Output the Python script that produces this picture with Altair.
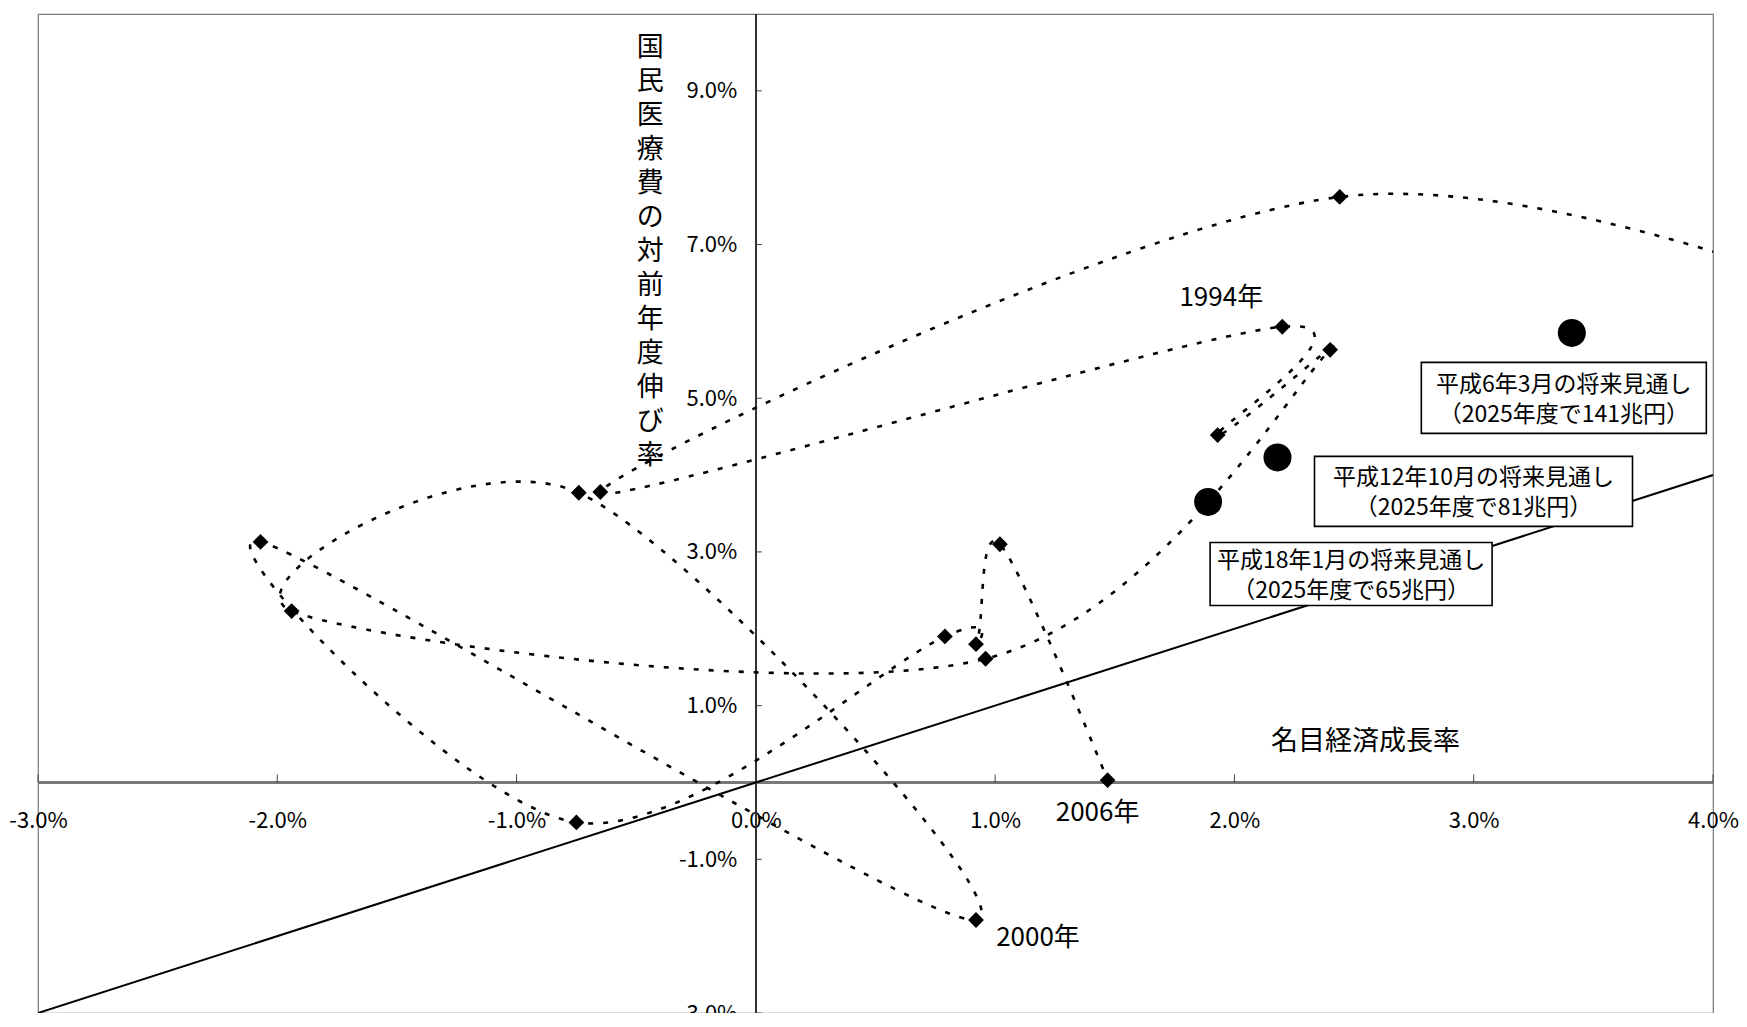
import altair as alt
import pandas as pd

# ---------------- data ----------------
years = [1991, 1992, 1993, 1994, 1995, 1996, 1997, 1998, 1999,
         2000, 2001, 2002, 2003, 2004, 2005, 2006]
gdp_growth = [4.90, 2.44, -0.65, 2.20, 1.93, 2.40, 0.96, -1.94, -0.74,
              0.92, -2.07, -0.75, 0.79, 0.92, 1.02, 1.47]
med_growth = [5.90, 7.62, 3.78, 5.93, 4.52, 5.63, 1.61, 2.23, 3.77,
              -1.79, 3.13, -0.52, 1.90, 1.80, 3.10, 0.03]

label_years = [1994, 2000, 2006]
label_texts = ["1994年", "2000年", "2006年"]

proj_names = ["平成6年3月の将来見通し", "平成12年10月の将来見通し", "平成18年1月の将来見通し"]
proj_notes = ["（2025年度で141兆円）", "（2025年度で81兆円）", "（2025年度で65兆円）"]
proj_gdp = [3.41, 2.18, 1.89]
proj_med = [5.85, 4.23, 3.65]

diag_values = [-3.0, 4.0]
x_tick_values = [-3, -2, -1, 0, 1, 2, 3, 4]
y_tick_values = [-3, -1, 1, 3, 5, 7, 9]
x_domain = [-3, 4]
y_domain = [-3, 10]

x_title = "名目経済成長率"
y_title = "国民医療費の対前年度伸び率"

# ---------------- layout / style ----------------
W, H = 1675, 999
PAD_L, PAD_T, PAD_R = 30, 6, 26
FONT_JP = "Noto Sans CJK JP, sans-serif"
LABEL_EXPR = "(datum.value < 0 ? '-' : '') + format(abs(datum.value), '.1f') + '%'"

label_offsets = {1994: (-61, -29), 2000: (62, 18), 2006: (-10, 33)}
# box centre offset from its circle (px) and box size (px)
box_styles = [(-8, 65, 285, 71), (196, 34, 318, 70), (143, 72, 282, 63)]
TEXT_SHIFT = -13

hist = pd.DataFrame({"year": years, "gdp": gdp_growth, "med": med_growth})
proj = pd.DataFrame({"name": proj_names, "note": proj_notes,
                     "gdp": proj_gdp, "med": proj_med})
proj["text"] = proj["name"] + "\n" + proj["note"]
diag = pd.DataFrame({"gdp": diag_values, "med": diag_values})
xt = pd.DataFrame({"gdp": x_tick_values})
yt = pd.DataFrame({"med": y_tick_values})

xs = alt.Scale(domain=x_domain, nice=False, zero=False)
ys = alt.Scale(domain=y_domain, nice=False, zero=False)

xaxis = alt.Axis(
    values=x_tick_values, orient="bottom", offset=-(3 / 13) * H,
    labelExpr=LABEL_EXPR,
    domain=False, ticks=False, tickSize=0, grid=False,
    labelPadding=38, labelBaseline="middle", labelAlign="center",
    labelFont=FONT_JP, labelFontSize=22, labelColor="black",
    labelFlush=False, labelOverlap=False, labelBound=False,
    title=x_title, titleX=1327, titleY=-41, titleAlign="center",
    titleBaseline="middle", titleFont=FONT_JP, titleFontSize=27,
    titleFontWeight="normal", titleColor="black",
)
yaxis = alt.Axis(
    values=y_tick_values, orient="left", offset=-(3 / 7) * W,
    labelExpr=LABEL_EXPR,
    domain=False, ticks=False, tickSize=0, grid=False,
    labelPadding=19, labelBaseline="middle", labelAlign="right",
    labelFont=FONT_JP, labelFontSize=22, labelColor="black",
    labelFlush=False, labelOverlap=False, labelBound=False,
    title=list(y_title), titleAngle=0, titleX=-106, titleY=20,
    titleAlign="center", titleBaseline="top", titleLineHeight=34,
    titleFont=FONT_JP, titleFontSize=27, titleFontWeight="normal",
    titleColor="black",
)


def X(field):
    return alt.X(field, type="quantitative", scale=xs, axis=xaxis)


def Y(field):
    return alt.Y(field, type="quantitative", scale=ys, axis=yaxis)


def XD(v):
    return alt.XDatum(v, type="quantitative", scale=xs, axis=xaxis)


def YD(v):
    return alt.YDatum(v, type="quantitative", scale=ys, axis=yaxis)


layers = []

# zero lines (the crossing axes)
layers.append(alt.Chart(hist).mark_rule(color="#333", strokeWidth=1.3).encode(x=XD(0)))
layers.append(alt.Chart(hist).mark_rule(color="#777", strokeWidth=1.6).encode(y=YD(0)))

# tick marks
layers.append(alt.Chart(xt).mark_rule(color="#444", strokeWidth=1, y2Offset=-8).encode(
    x=X("gdp"), y=YD(0), y2=alt.Y2Datum(0)))
layers.append(alt.Chart(yt).mark_rule(color="#444", strokeWidth=1, x2Offset=6).encode(
    y=Y("med"), x=XD(0), x2=alt.X2Datum(0)))

# 45-degree line
layers.append(alt.Chart(diag).mark_line(color="black", strokeWidth=2, clip=True).encode(
    x=X("gdp"), y=Y("med")))

# dotted smoothed path
layers.append(alt.Chart(hist).mark_line(
    color="black", strokeWidth=2.6, strokeDash=[5, 10], interpolate="cardinal",
    tension=0, clip=True).encode(x=X("gdp"), y=Y("med"), order=alt.Order("year:Q")))

# diamonds
layers.append(alt.Chart(hist).mark_point(
    shape="diamond", filled=True, size=250, color="black", opacity=1, clip=True).encode(
    x=X("gdp"), y=Y("med")))

# projection circles
layers.append(alt.Chart(proj).mark_point(
    shape="circle", filled=True, size=784, color="black", opacity=1).encode(
    x=X("gdp"), y=Y("med")))

# annotation boxes
for i, (dx, dy, bw, bh) in enumerate(box_styles):
    base = alt.Chart(proj).transform_filter(alt.datum.name == proj_names[i])
    layers.append(base.mark_rect(
        fill="white", stroke="black", strokeWidth=1.6,
        xOffset=dx - bw / 2, x2Offset=dx + bw / 2,
        yOffset=dy - bh / 2, y2Offset=dy + bh / 2).encode(
        x=X("gdp"), x2=alt.X2("gdp"), y=Y("med"), y2=alt.Y2("med")))
    layers.append(base.mark_text(
        dx=dx, dy=dy + TEXT_SHIFT, align="center", baseline="middle", lineBreak="\n",
        lineHeight=30, font=FONT_JP, fontSize=23, color="black").encode(
        x=X("gdp"), y=Y("med"), text="text:N"))

# year labels
for yr, txt in zip(label_years, label_texts):
    dx, dy = label_offsets[yr]
    lab = hist[hist["year"] == yr].assign(label=txt)
    layers.append(alt.Chart(lab).mark_text(
        dx=dx, dy=dy, align="center", baseline="middle", font=FONT_JP,
        fontSize=26, color="black").encode(x=X("gdp"), y=Y("med"), text="label:N"))

chart = alt.layer(*layers).properties(
    width=W, height=H, autosize="none",
    padding={"left": PAD_L, "top": PAD_T, "right": PAD_R, "bottom": 0},
    background="white",
).configure_view(stroke="#777", strokeWidth=1.2)

chart.save("out.html", embed_options={"renderer": "svg", "actions": False})
